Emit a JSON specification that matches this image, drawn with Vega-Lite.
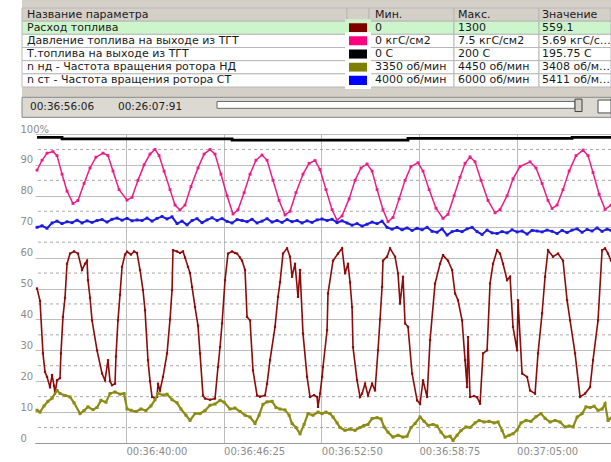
{
  "$schema": "https://vega.github.io/schema/vega-lite/v6.json",
  "padding": 0,
  "background": "#ffffff",
  "spacing": 0,
  "bounds": "flush",
  "config": {"view": {"stroke": null}, "text": {"font": "DejaVu Sans"}, "axis": {"labelFont": "DejaVu Sans", "labelOverlap": false}},
  "datasets": {
    "params": [
      {"row": 0, "name": "Название параметра", "min": "Мин.", "max": "Макс.", "value": "Значение", "header": true, "selected": false},
      {"row": 1, "name": "Расход топлива", "min": "0", "max": "1300", "value": "559.1", "header": false, "selected": true},
      {"row": 2, "name": "Давление топлива на выходе из ТГТ", "min": "0 кгС/см2", "max": "7.5 кгС/см2", "value": "5.69 кгС/см2", "header": false, "selected": false},
      {"row": 3, "name": "Т.топлива на выходе из ТГТ", "min": "0 С", "max": "200 С", "value": "195.75 С", "header": false, "selected": false},
      {"row": 4, "name": "\u00a0n нд - Частота вращения ротора НД", "min": "3350 об/мин", "max": "4450 об/мин", "value": "3408 об/мин", "header": false, "selected": false},
      {"row": 5, "name": "\u00a0n ст - Частота вращения ротора СТ", "min": "4000 об/мин", "max": "6000 об/мин", "value": "5411 об/мин", "header": false, "selected": false}
    ],
    "toolbar": [{"cursor": "00:36:56:06", "span": "00:26:07:91"}],
    "minorGrid": [{"v":5},{"v":15},{"v":25},{"v":35},{"v":45},{"v":55},{"v":65},{"v":75},{"v":85},{"v":95}],
    "cursor": [{"t": 56.25}],
    "temp": [{"t":34.31,"v":98.9},{"t":35.91,"v":98.4},{"t":46.79,"v":98.0},{"t":58.05,"v":98.6},{"t":68.55,"v":98.9},{"t":71.04,"v":98.9}],
    "pressure": [
      {"t":34.31,"v":88.3},{"t":34.63,"v":91.5},{"t":34.95,"v":93.8},{"t":35.33,"v":94.3},{"t":35.59,"v":93},{"t":35.91,"v":87},{"t":36.23,"v":81.5},{"t":36.61,"v":77.5},{"t":36.93,"v":78.5},{"t":37.32,"v":84},{"t":37.70,"v":89},{"t":38.08,"v":92.5},{"t":38.53,"v":93.8},{"t":38.85,"v":93},{"t":39.17,"v":88},{"t":39.56,"v":82},{"t":40.07,"v":78.6},{"t":40.39,"v":79.5},{"t":40.77,"v":85},{"t":41.16,"v":90},{"t":41.54,"v":93.5},{"t":41.86,"v":95},{"t":42.12,"v":93},{"t":42.44,"v":88},{"t":42.82,"v":82},{"t":43.14,"v":77},{"t":43.46,"v":75.4},{"t":43.78,"v":77},{"t":44.16,"v":83},{"t":44.61,"v":89},{"t":45.00,"v":93.5},{"t":45.38,"v":95},{"t":45.70,"v":93.5},{"t":46.08,"v":87},{"t":46.47,"v":80},{"t":46.85,"v":74.1},{"t":47.17,"v":75.5},{"t":47.56,"v":81},{"t":47.94,"v":87},{"t":48.32,"v":91.5},{"t":48.71,"v":93.2},{"t":49.03,"v":91.5},{"t":49.41,"v":85},{"t":49.80,"v":78.5},{"t":50.18,"v":73.8},{"t":50.50,"v":75},{"t":50.88,"v":81},{"t":51.33,"v":87},{"t":51.72,"v":90.5},{"t":52.10,"v":91.4},{"t":52.42,"v":88.5},{"t":52.80,"v":82},{"t":53.19,"v":75.5},{"t":53.51,"v":72.1},{"t":53.83,"v":73.5},{"t":54.28,"v":79},{"t":54.66,"v":85},{"t":55.04,"v":89},{"t":55.43,"v":90.3},{"t":55.75,"v":88},{"t":56.07,"v":82},{"t":56.45,"v":75.5},{"t":56.77,"v":71.6},{"t":57.09,"v":73},{"t":57.48,"v":79},{"t":57.86,"v":85},{"t":58.24,"v":89.5},{"t":58.69,"v":90.7},{"t":59.01,"v":88},{"t":59.40,"v":82},{"t":59.84,"v":76},{"t":60.29,"v":72.7},{"t":60.61,"v":74},{"t":61.00,"v":80},{"t":61.38,"v":86},{"t":61.70,"v":90.5},{"t":62.02,"v":92.6},{"t":62.34,"v":91},{"t":62.72,"v":85},{"t":63.17,"v":78.5},{"t":63.62,"v":74.5},{"t":63.94,"v":75.5},{"t":64.39,"v":80},{"t":64.77,"v":85.5},{"t":65.22,"v":89.5},{"t":65.86,"v":91},{"t":66.24,"v":89},{"t":66.63,"v":84},{"t":67.01,"v":78.5},{"t":67.27,"v":75.9},{"t":67.59,"v":77},{"t":67.97,"v":82},{"t":68.36,"v":88},{"t":68.80,"v":93},{"t":69.25,"v":94.8},{"t":69.57,"v":93},{"t":69.89,"v":87.5},{"t":70.28,"v":80.5},{"t":70.66,"v":75.6},{"t":71.04,"v":77}
    ],
    "fuelFlow": [
      {"t":34.31,"v":50},{"t":34.50,"v":46},{"t":34.69,"v":29},{"t":34.82,"v":23},{"t":34.95,"v":21.4},{"t":35.14,"v":18},{"t":35.27,"v":22},{"t":35.40,"v":18.5},{"t":35.46,"v":16},{"t":35.59,"v":20.3},{"t":35.78,"v":21},{"t":35.84,"v":29},{"t":35.97,"v":40.8},{"t":36.10,"v":47},{"t":36.23,"v":58},{"t":36.42,"v":61.3},{"t":36.68,"v":62},{"t":36.93,"v":61.3},{"t":37.19,"v":56},{"t":37.38,"v":58},{"t":37.51,"v":59},{"t":37.57,"v":52.7},{"t":37.70,"v":47},{"t":37.83,"v":39.7},{"t":38.15,"v":30},{"t":38.47,"v":22.5},{"t":38.66,"v":20.3},{"t":38.85,"v":26.8},{"t":38.98,"v":20},{"t":39.11,"v":18.7},{"t":39.30,"v":19.2},{"t":39.36,"v":28},{"t":39.49,"v":39.7},{"t":39.62,"v":48},{"t":39.75,"v":57},{"t":39.94,"v":61},{"t":40.07,"v":61.9},{"t":40.32,"v":61},{"t":40.52,"v":62},{"t":40.71,"v":61.5},{"t":40.90,"v":56},{"t":41.09,"v":49.5},{"t":41.22,"v":43},{"t":41.41,"v":26.8},{"t":41.54,"v":20},{"t":41.67,"v":14.9},{"t":41.86,"v":14.5},{"t":41.99,"v":14.9},{"t":42.05,"v":19.2},{"t":42.18,"v":17},{"t":42.37,"v":21.4},{"t":42.63,"v":29},{"t":42.82,"v":40},{"t":42.95,"v":49.5},{"t":43.01,"v":62.4},{"t":43.27,"v":62},{"t":43.46,"v":61.5},{"t":43.65,"v":62},{"t":43.78,"v":60},{"t":43.97,"v":57},{"t":44.10,"v":55},{"t":44.23,"v":50.5},{"t":44.42,"v":44},{"t":44.61,"v":38},{"t":44.74,"v":29},{"t":44.93,"v":15.4},{"t":45.06,"v":14.4},{"t":45.38,"v":14},{"t":45.70,"v":14.4},{"t":45.89,"v":24.6},{"t":46.02,"v":31},{"t":46.15,"v":38.7},{"t":46.34,"v":52.7},{"t":46.53,"v":61.3},{"t":46.79,"v":62},{"t":46.98,"v":61.5},{"t":47.11,"v":61.3},{"t":47.30,"v":60},{"t":47.43,"v":59},{"t":47.62,"v":56},{"t":47.75,"v":40.8},{"t":47.94,"v":39.7},{"t":48.13,"v":23.5},{"t":48.39,"v":15.4},{"t":48.58,"v":15},{"t":48.90,"v":15.4},{"t":49.03,"v":19.2},{"t":49.22,"v":26.8},{"t":49.54,"v":37.6},{"t":49.73,"v":47.3},{"t":49.86,"v":52},{"t":50.05,"v":61.3},{"t":50.31,"v":63},{"t":50.50,"v":60.3},{"t":50.63,"v":53.8},{"t":50.82,"v":58},{"t":51.01,"v":47.3},{"t":51.14,"v":56},{"t":51.33,"v":35.4},{"t":51.59,"v":21.4},{"t":51.78,"v":14.9},{"t":52.04,"v":15.5},{"t":52.23,"v":14.9},{"t":52.29,"v":11.7},{"t":52.42,"v":16},{"t":52.55,"v":21.4},{"t":52.61,"v":24.6},{"t":52.87,"v":36.5},{"t":52.93,"v":48.4},{"t":53.25,"v":59},{"t":53.57,"v":61.3},{"t":53.83,"v":63},{"t":54.02,"v":54.9},{"t":54.21,"v":58},{"t":54.34,"v":52},{"t":54.47,"v":44},{"t":54.53,"v":31},{"t":54.79,"v":20.3},{"t":54.98,"v":14.9},{"t":55.11,"v":16},{"t":55.30,"v":19.2},{"t":55.49,"v":15.4},{"t":55.75,"v":19.2},{"t":55.94,"v":17},{"t":56.13,"v":30},{"t":56.26,"v":40},{"t":56.39,"v":50.5},{"t":56.45,"v":59},{"t":56.71,"v":60.3},{"t":56.90,"v":63},{"t":57.22,"v":60.3},{"t":57.41,"v":54.9},{"t":57.54,"v":45.1},{"t":57.73,"v":53.8},{"t":57.86,"v":38.7},{"t":58.05,"v":37.6},{"t":58.31,"v":22.5},{"t":58.63,"v":13.8},{"t":58.82,"v":12.7},{"t":59.01,"v":20.3},{"t":59.27,"v":14.9},{"t":59.46,"v":33.3},{"t":59.78,"v":51.6},{"t":60.10,"v":58},{"t":60.29,"v":60.8},{"t":60.61,"v":59},{"t":60.87,"v":56},{"t":61.06,"v":48.4},{"t":61.25,"v":46.2},{"t":61.51,"v":39.7},{"t":61.70,"v":26.8},{"t":61.83,"v":18.1},{"t":61.89,"v":34.3},{"t":62.02,"v":14.9},{"t":62.28,"v":15.2},{"t":62.47,"v":14.8},{"t":62.66,"v":12.7},{"t":62.85,"v":29},{"t":63.11,"v":30},{"t":63.30,"v":51.6},{"t":63.49,"v":58},{"t":63.75,"v":62.4},{"t":63.94,"v":61.3},{"t":64.13,"v":58},{"t":64.39,"v":52.7},{"t":64.58,"v":53.8},{"t":64.77,"v":37.6},{"t":65.03,"v":30},{"t":65.09,"v":46.2},{"t":65.35,"v":22.5},{"t":65.67,"v":21.4},{"t":65.86,"v":17},{"t":66.18,"v":16},{"t":66.37,"v":29},{"t":66.63,"v":42},{"t":66.82,"v":53.8},{"t":67.01,"v":62.4},{"t":67.33,"v":60.3},{"t":67.65,"v":61.3},{"t":67.97,"v":59},{"t":68.23,"v":46.2},{"t":68.42,"v":39.7},{"t":68.74,"v":29},{"t":69.06,"v":14.9},{"t":69.38,"v":16},{"t":69.70,"v":18.1},{"t":69.89,"v":26.8},{"t":70.21,"v":39.7},{"t":70.47,"v":62.4},{"t":70.66,"v":63},{"t":70.85,"v":61.3},{"t":71.04,"v":59}
    ],
    "nnd": [
      {"t":34.31,"v":10.6},{"t":34.50,"v":10},{"t":34.76,"v":12},{"t":35.01,"v":13.5},{"t":35.27,"v":14.5},{"t":35.59,"v":17},{"t":35.78,"v":16},{"t":36.10,"v":15.4},{"t":36.42,"v":14.9},{"t":36.68,"v":13},{"t":37.06,"v":9.5},{"t":37.32,"v":10.5},{"t":37.57,"v":11.7},{"t":37.89,"v":10.8},{"t":38.15,"v":11.5},{"t":38.40,"v":13.8},{"t":38.72,"v":13.2},{"t":38.98,"v":16},{"t":39.30,"v":16.5},{"t":39.62,"v":15.8},{"t":39.88,"v":16},{"t":40.07,"v":11},{"t":40.32,"v":10.6},{"t":40.64,"v":10.2},{"t":40.96,"v":11},{"t":41.28,"v":10.5},{"t":41.60,"v":12},{"t":41.86,"v":14},{"t":42.05,"v":16},{"t":42.37,"v":15.5},{"t":42.63,"v":15.8},{"t":42.95,"v":14},{"t":43.27,"v":13},{"t":43.52,"v":11},{"t":43.84,"v":9},{"t":44.10,"v":7.3},{"t":44.42,"v":9.5},{"t":44.74,"v":9.5},{"t":45.06,"v":10.5},{"t":45.38,"v":12.2},{"t":45.70,"v":12.6},{"t":46.02,"v":13.8},{"t":46.28,"v":13.2},{"t":46.66,"v":11},{"t":46.98,"v":11.3},{"t":47.30,"v":10.2},{"t":47.62,"v":9},{"t":47.94,"v":8.4},{"t":48.26,"v":6.3},{"t":48.52,"v":9},{"t":48.77,"v":12.5},{"t":49.03,"v":13.3},{"t":49.35,"v":13.5},{"t":49.60,"v":11.5},{"t":49.86,"v":11},{"t":50.18,"v":10.7},{"t":50.44,"v":9},{"t":50.63,"v":6.3},{"t":50.88,"v":5},{"t":51.14,"v":3},{"t":51.40,"v":6},{"t":51.65,"v":9.5},{"t":51.97,"v":9},{"t":52.29,"v":10},{"t":52.55,"v":9.5},{"t":52.80,"v":10},{"t":53.06,"v":9.5},{"t":53.25,"v":8.4},{"t":53.51,"v":6.5},{"t":53.70,"v":5},{"t":54.02,"v":4.1},{"t":54.34,"v":4.5},{"t":54.66,"v":4.1},{"t":54.98,"v":5},{"t":55.24,"v":5.7},{"t":55.49,"v":6},{"t":55.75,"v":7.9},{"t":56.07,"v":8.2},{"t":56.32,"v":7.8},{"t":56.52,"v":5.2},{"t":56.77,"v":3.5},{"t":57.09,"v":1.9},{"t":57.41,"v":2.5},{"t":57.73,"v":1.9},{"t":57.99,"v":2.2},{"t":58.24,"v":5},{"t":58.50,"v":6.3},{"t":58.82,"v":8.4},{"t":59.08,"v":7},{"t":59.33,"v":5.7},{"t":59.65,"v":6},{"t":59.91,"v":5.5},{"t":60.16,"v":3.5},{"t":60.42,"v":1.9},{"t":60.74,"v":2.2},{"t":60.93,"v":0.8},{"t":61.19,"v":2.5},{"t":61.44,"v":4},{"t":61.76,"v":5.2},{"t":62.02,"v":5},{"t":62.34,"v":6.5},{"t":62.60,"v":7.3},{"t":62.92,"v":6.8},{"t":63.24,"v":7},{"t":63.56,"v":6.5},{"t":63.81,"v":6.8},{"t":64.07,"v":4},{"t":64.26,"v":1.9},{"t":64.52,"v":2.5},{"t":64.77,"v":3},{"t":65.03,"v":4.2},{"t":65.28,"v":6.5},{"t":65.60,"v":7.3},{"t":65.92,"v":7},{"t":66.24,"v":8.5},{"t":66.56,"v":9.5},{"t":66.82,"v":8},{"t":67.14,"v":6.8},{"t":67.46,"v":7.3},{"t":67.78,"v":6.8},{"t":68.10,"v":5.2},{"t":68.36,"v":5.5},{"t":68.61,"v":5.2},{"t":68.87,"v":8.4},{"t":69.19,"v":9.5},{"t":69.44,"v":11.7},{"t":69.70,"v":11.5},{"t":69.96,"v":11.9},{"t":70.21,"v":10.6},{"t":70.47,"v":11},{"t":70.66,"v":12.7},{"t":70.85,"v":7.3},{"t":71.04,"v":8}
    ],
    "nst": [
      {"t":34.31,"v":69.8},{"t":34.63,"v":70.3},{"t":34.95,"v":69.5},{"t":35.27,"v":71.2},{"t":35.59,"v":71.8},{"t":35.91,"v":71},{"t":36.23,"v":71.6},{"t":36.55,"v":71.3},{"t":36.87,"v":72.1},{"t":37.19,"v":71.2},{"t":37.51,"v":71.9},{"t":37.83,"v":71.4},{"t":38.15,"v":72},{"t":38.47,"v":72.3},{"t":38.79,"v":71.5},{"t":39.11,"v":72.4},{"t":39.43,"v":72.8},{"t":39.75,"v":72.1},{"t":40.07,"v":72.7},{"t":40.39,"v":71.9},{"t":40.71,"v":72.2},{"t":41.03,"v":72},{"t":41.35,"v":72.8},{"t":41.67,"v":71.8},{"t":41.99,"v":72.7},{"t":42.31,"v":73.3},{"t":42.63,"v":72.5},{"t":42.95,"v":73.2},{"t":43.27,"v":71},{"t":43.59,"v":71.8},{"t":43.91,"v":70.6},{"t":44.23,"v":72},{"t":44.55,"v":72.6},{"t":44.87,"v":71.3},{"t":45.19,"v":72.2},{"t":45.51,"v":72.9},{"t":45.83,"v":72},{"t":46.15,"v":72.6},{"t":46.47,"v":71.7},{"t":46.79,"v":71.2},{"t":47.11,"v":72.3},{"t":47.43,"v":72},{"t":47.75,"v":71.6},{"t":48.07,"v":72.4},{"t":48.39,"v":71.2},{"t":48.71,"v":71.8},{"t":49.03,"v":72.6},{"t":49.35,"v":71.5},{"t":49.67,"v":72},{"t":49.99,"v":71.4},{"t":50.31,"v":72.3},{"t":50.63,"v":71.6},{"t":50.95,"v":72},{"t":51.27,"v":71.2},{"t":51.59,"v":71.9},{"t":51.91,"v":71.4},{"t":52.23,"v":72.2},{"t":52.55,"v":72.5},{"t":52.87,"v":72},{"t":53.19,"v":72.4},{"t":53.51,"v":71.3},{"t":53.83,"v":71.9},{"t":54.15,"v":71.2},{"t":54.47,"v":70.5},{"t":54.79,"v":71},{"t":55.11,"v":70.2},{"t":55.43,"v":70.8},{"t":55.75,"v":71.5},{"t":56.07,"v":71},{"t":56.39,"v":71.8},{"t":56.71,"v":69.8},{"t":57.03,"v":69.2},{"t":57.35,"v":69.8},{"t":57.67,"v":69},{"t":57.99,"v":69.6},{"t":58.31,"v":68.8},{"t":58.63,"v":69.5},{"t":58.95,"v":69},{"t":59.27,"v":69.8},{"t":59.59,"v":68.5},{"t":59.91,"v":68.2},{"t":60.23,"v":69.3},{"t":60.55,"v":67.3},{"t":60.87,"v":68.4},{"t":61.19,"v":68.8},{"t":61.51,"v":68.4},{"t":61.83,"v":69.3},{"t":62.15,"v":69.8},{"t":62.47,"v":68.4},{"t":62.79,"v":67.5},{"t":63.11,"v":68.9},{"t":63.43,"v":68},{"t":63.75,"v":67.8},{"t":64.07,"v":68.4},{"t":64.39,"v":68},{"t":64.71,"v":69},{"t":65.03,"v":68.3},{"t":65.35,"v":68.6},{"t":65.67,"v":67.6},{"t":65.99,"v":68.8},{"t":66.31,"v":68.6},{"t":66.63,"v":68.3},{"t":66.95,"v":68.9},{"t":67.27,"v":68.5},{"t":67.59,"v":67.8},{"t":67.91,"v":68.8},{"t":68.23,"v":68.1},{"t":68.55,"v":68.9},{"t":68.87,"v":69.3},{"t":69.19,"v":68.2},{"t":69.51,"v":69.1},{"t":69.83,"v":68.6},{"t":70.15,"v":69.6},{"t":70.47,"v":68.5},{"t":70.79,"v":69.2},{"t":71.04,"v":68.8}
    ]
  },
  "hconcat": [
    {"width": 22, "height": 443, "data": {"values": []}, "mark": "point"},
    {
      "spacing": 0,
      "bounds": "flush",
      "vconcat": [
        {
          "width": 589, "height": 95,
          "view": {"fill": "#d4d0c8", "stroke": null},
          "data": {"name": "params"},
          "encoding": {"y": {"field": "row", "type": "ordinal", "scale": {"type": "band", "range": [8, 87], "paddingInner": 0, "paddingOuter": 0}, "axis": null}},
          "layer": [
            {"mark": {"type": "rect", "stroke": "#b8b8b8", "strokeWidth": 1},
             "encoding": {"x": {"datum": 0, "type": "quantitative", "scale": {"domain": [0, 1, 2, 3, 4, 5], "range": [0, 325, 347, 432, 517, 589], "nice": false, "zero": false}, "axis": null}, "x2": {"datum": 1},
               "fill": {"condition": [{"test": "datum.header", "value": "#d4d0c8"}, {"test": "datum.selected", "value": "#ccf5cc"}], "value": "#ffffff"}}},
            {"mark": {"type": "rect", "stroke": "#b8b8b8", "strokeWidth": 1},
             "encoding": {"x": {"datum": 1, "type": "quantitative"}, "x2": {"datum": 2},
               "fill": {"condition": [{"test": "datum.header", "value": "#d4d0c8"}, {"test": "datum.selected", "value": "#ccf5cc"}], "value": "#ffffff"}}},
            {"mark": {"type": "rect", "stroke": "#b8b8b8", "strokeWidth": 1},
             "encoding": {"x": {"datum": 2, "type": "quantitative"}, "x2": {"datum": 3},
               "fill": {"condition": [{"test": "datum.header", "value": "#d4d0c8"}, {"test": "datum.selected", "value": "#ccf5cc"}], "value": "#ffffff"}}},
            {"mark": {"type": "rect", "stroke": "#b8b8b8", "strokeWidth": 1},
             "encoding": {"x": {"datum": 3, "type": "quantitative"}, "x2": {"datum": 4},
               "fill": {"condition": [{"test": "datum.header", "value": "#d4d0c8"}, {"test": "datum.selected", "value": "#ccf5cc"}], "value": "#ffffff"}}},
            {"mark": {"type": "rect", "stroke": "#b8b8b8", "strokeWidth": 1},
             "encoding": {"x": {"datum": 4, "type": "quantitative"}, "x2": {"datum": 5},
               "fill": {"condition": [{"test": "datum.header", "value": "#d4d0c8"}, {"test": "datum.selected", "value": "#ccf5cc"}], "value": "#ffffff"}}},
            {"transform": [{"filter": "!datum.header"}],
             "mark": {"type": "rect", "strokeWidth": 4},
             "encoding": {"x": {"datum": 1, "type": "quantitative"}, "x2": {"datum": 2},
               "fill": {"field": "name", "type": "nominal", "legend": null,
                 "scale": {"domain": ["Расход топлива", "Давление топлива на выходе из ТГТ", "Т.топлива на выходе из ТГТ", "\u00a0n нд - Частота вращения ротора НД", "\u00a0n ст - Частота вращения ротора СТ"], "range": ["#800000", "#ff0080", "#000000", "#808000", "#0000ff"]}},
               "stroke": {"condition": {"test": "datum.selected", "value": "#ccf5cc"}, "value": "#ffffff"}}},
            {"mark": {"type": "text", "align": "left", "dx": 5, "fontSize": 11, "color": "#1a1a1a", "limit": 318, "ellipsis": ""},
             "encoding": {"x": {"datum": 0, "type": "quantitative"}, "text": {"field": "name"}}},
            {"mark": {"type": "text", "align": "left", "dx": 6, "fontSize": 11, "color": "#1a1a1a", "limit": 78, "ellipsis": ""},
             "encoding": {"x": {"datum": 2, "type": "quantitative"}, "text": {"field": "min"}}},
            {"mark": {"type": "text", "align": "left", "dx": 4, "fontSize": 11, "color": "#1a1a1a", "limit": 80, "ellipsis": ""},
             "encoding": {"x": {"datum": 3, "type": "quantitative"}, "text": {"field": "max"}}},
            {"mark": {"type": "text", "align": "left", "dx": 3, "fontSize": 11, "color": "#1a1a1a", "limit": 70, "ellipsis": ""},
             "encoding": {"x": {"datum": 4, "type": "quantitative"}, "text": {"field": "value"}}}
          ]
        },
        {
          "width": 589, "height": 23,
          "view": {"fill": "#d4d0c8", "stroke": null},
          "data": {"name": "toolbar"},
          "layer": [
            {"mark": {"type": "rect", "fill": "#dcd9d3", "stroke": "#8a8a8a", "strokeWidth": 1},
             "encoding": {"x": {"datum": -1, "type": "quantitative", "scale": {"domain": [-1, 0, 1, 2, 3, 4, 5, 6], "range": [0, 8, 96, 195, 553, 560, 576, 589], "nice": false, "zero": false}, "axis": null}, "x2": {"datum": 6},
               "y": {"datum": 0.1, "type": "quantitative", "scale": {"domain": [0, 1], "range": [0, 23], "nice": false, "zero": false}, "axis": null}, "y2": {"datum": 0.97}}},
            {"mark": {"type": "text", "align": "left", "baseline": "middle", "fontSize": 10.5, "color": "#222222"},
             "encoding": {"x": {"datum": 0, "type": "quantitative"}, "y": {"datum": 0.53, "type": "quantitative"}, "text": {"field": "cursor"}}},
            {"mark": {"type": "text", "align": "left", "baseline": "middle", "fontSize": 10.5, "color": "#222222"},
             "encoding": {"x": {"datum": 1, "type": "quantitative"}, "y": {"datum": 0.53, "type": "quantitative"}, "text": {"field": "span"}}},
            {"mark": {"type": "rect", "fill": "#ffffff", "stroke": "#6a6a6a", "strokeWidth": 1},
             "encoding": {"x": {"datum": 2, "type": "quantitative"}, "x2": {"datum": 3}, "y": {"datum": 0.28, "type": "quantitative"}, "y2": {"datum": 0.58}}},
            {"mark": {"type": "rect", "fill": "#d4d0c8", "stroke": "#404040", "strokeWidth": 1},
             "encoding": {"x": {"datum": 3, "type": "quantitative"}, "x2": {"datum": 4}, "y": {"datum": 0.18, "type": "quantitative"}, "y2": {"datum": 0.72}}},
            {"mark": {"type": "rect", "fill": "#ffffff", "stroke": "#505050", "strokeWidth": 1},
             "encoding": {"x": {"datum": 5, "type": "quantitative"}, "x2": {"datum": 6}, "y": {"datum": 0.22, "type": "quantitative"}, "y2": {"datum": 0.78}}}
          ]
        },
        {"width": 589, "height": 16, "data": {"values": []}, "mark": "point"},
        {
          "spacing": 0,
          "bounds": "flush",
          "hconcat": [
            {"width": 13, "height": 309, "data": {"values": []}, "mark": "point"},
            {
              "width": 576, "height": 309,
              "encoding": {
                "x": {"field": "t", "type": "quantitative",
                  "scale": {"domain": [34.18, 71.04], "nice": false, "zero": false},
                  "axis": {"values": [40, 46.25, 52.5, 58.75, 65], "grid": true, "gridColor": "#bdbdbd", "domain": true, "domainColor": "#9a9a9a", "ticks": false, "labelAlign": "left", "labelFlush": false, "labelOverlap": false, "labelPadding": 3, "labelColor": "#8c8c8c", "labelFontSize": 10, "title": null,
                    "labelExpr": "'00:' + (36 + floor(datum.value / 60)) + ':' + (floor(datum.value % 60) < 10 ? '0' : '') + floor(datum.value % 60) + ':' + (round((datum.value - floor(datum.value)) * 100) < 10 ? '0' : '') + round((datum.value - floor(datum.value)) * 100)"}},
                "y": {"field": "v", "type": "quantitative",
                  "scale": {"domain": [0, 100], "nice": false, "zero": false},
                  "axis": {"values": [0, 10, 20, 30, 40, 50, 60, 70, 80, 90, 100], "tickCount": 11, "grid": true, "gridColor": "#bdbdbd", "gridWidth": 1, "domain": false, "ticks": false, "labelAlign": "left", "labelPadding": 15, "labelBaseline": "bottom", "labelColor": "#8c8c8c", "labelFontSize": 10, "labelOverlap": false, "labelSeparation": 0, "labelExpr": "datum.value == 100 ? '100%' : datum.label", "title": null}}
              },
              "layer": [
                {"data": {"name": "minorGrid"},
                 "mark": {"type": "rule", "color": "#a8a8a8", "strokeDash": [3, 3], "strokeWidth": 1},
                 "encoding": {"x": null}},
                {"data": {"name": "fuelFlow"},
                 "mark": {"type": "line", "color": "#8c0c0c", "strokeWidth": 1.6, "point": {"shape": "square", "size": 5, "filled": true, "color": "#8c0c0c"}}},
                {"data": {"name": "pressure"},
                 "mark": {"type": "line", "color": "#ec1c86", "strokeWidth": 1.5, "point": {"shape": "square", "size": 8, "filled": true, "color": "#ec1c86"}}},
                {"data": {"name": "temp"},
                 "mark": {"type": "line", "color": "#000000", "strokeWidth": 2.8, "interpolate": "step-after"}},
                {"data": {"name": "nnd"},
                 "mark": {"type": "line", "color": "#8c8c14", "strokeWidth": 2.2, "point": {"shape": "square", "size": 9, "filled": true, "color": "#8c8c14"}}},
                {"data": {"name": "nst"},
                 "mark": {"type": "line", "color": "#1c1cdc", "strokeWidth": 2, "point": {"shape": "square", "size": 8, "filled": true, "color": "#1c1cdc"}}},
                {"data": {"name": "cursor"},
                 "mark": {"type": "rule", "color": "#5656d0", "strokeWidth": 1},
                 "encoding": {"y": {"datum": -4.5, "type": "quantitative"}, "y2": {"datum": 100}}},
                {"data": {"name": "cursor"},
                 "mark": {"type": "text", "text": "Y", "fontSize": 9, "color": "#5656d0", "baseline": "bottom", "dy": 1},
                 "encoding": {"y": {"datum": 100, "type": "quantitative"}}}
              ]
            }
          ]
        }
      ]
    }
  ]
}
